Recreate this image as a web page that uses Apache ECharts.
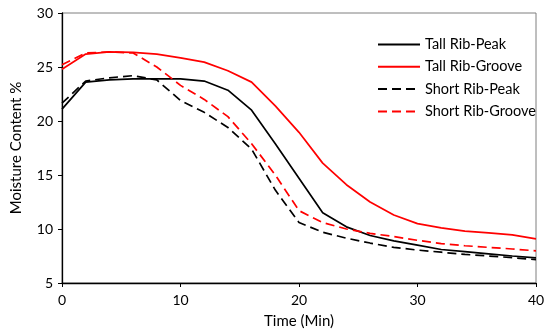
<!DOCTYPE html>
<html>
<head>
<meta charset="utf-8">
<script src="https://cdn.jsdelivr.net/npm/echarts@6/dist/echarts.min.js"></script>
<style>
html,body{margin:0;padding:0;background:#fff;}
#chart{width:550px;height:335px;}
</style>
</head>
<body>
<div id="chart"></div>
<script>
var times = [0,2,4,6,8,10,12,14,16,18,20,22,24,26,28,30,32,34,36,38,40];
var tallPeak   = [21.1,23.6,23.8,23.9,23.9,23.9,23.7,22.85,21.0,17.9,14.7,11.5,10.2,9.4,8.9,8.5,8.1,7.9,7.7,7.5,7.33];
var tallGroove = [24.8,26.2,26.4,26.35,26.2,25.85,25.45,24.65,23.6,21.4,18.95,16.1,14.1,12.5,11.3,10.5,10.1,9.8,9.65,9.45,9.08];
var shortPeak  = [21.65,23.7,24.0,24.2,23.8,21.9,20.8,19.4,17.4,13.6,10.6,9.7,9.15,8.7,8.3,8.05,7.85,7.65,7.5,7.35,7.16];
var shortGroove= [25.2,26.3,26.4,26.3,25.0,23.3,22.0,20.4,17.9,15.0,11.7,10.6,10.0,9.6,9.3,8.95,8.65,8.45,8.3,8.15,7.98];
var seriesNames = ['Tall Rib-Peak','Tall Rib-Groove','Short Rib-Peak','Short Rib-Groove'];
var xTicks = [0,10,20,30,40];
var yTicks = [5,10,15,20,25,30];

function pairs(vals){ return times.map(function(t,i){ return [t, vals[i]]; }); }
var FONT = 'Lato';
function mk(name, vals, color, dashed){
  return {
    name: name, type: 'line', data: pairs(vals), symbol: 'none', smooth: false,
    lineStyle: { color: color, width: 1.7, type: dashed ? [9,5] : 'solid' },
    itemStyle: { color: color },
    emphasis: { disabled: true }, animation: false
  };
}
var chart = echarts.init(document.getElementById('chart'), null, {renderer:'canvas'});
chart.setOption({
  backgroundColor: '#fff',
  animation: false,
  grid: { left: 62, right: 14, top: 13, bottom: 52, show: true, borderColor: '#7f7f7f', borderWidth: 1, backgroundColor: 'transparent' },
  legend: {
    orient: 'vertical', left: 372, top: 32, itemWidth: 42, itemHeight: 14, itemGap: 7.3,
    data: seriesNames,
    itemStyle: { opacity: 0 },
    textStyle: { fontFamily: FONT, fontSize: 14.5, color: '#000' }
  },
  xAxis: {
    type: 'value', min: xTicks[0], max: xTicks[xTicks.length-1], interval: 10,
    name: 'Time (Min)', nameLocation: 'middle', nameGap: 31,
    nameTextStyle: { fontFamily: FONT, fontSize: 15, color: '#000' },
    axisLine: { show: true, onZero: false, lineStyle: { color: '#000', width: 1.3 } },
    axisTick: { show: true, length: 4, lineStyle: { color: '#000' } },
    axisLabel: { fontFamily: FONT, fontSize: 14, color: '#000', margin: 10 },
    splitLine: { show: false }
  },
  yAxis: {
    type: 'value', min: yTicks[0], max: yTicks[yTicks.length-1], interval: 5,
    name: 'Moisture Content %', nameLocation: 'middle', nameGap: 38, nameRotate: 90,
    nameTextStyle: { fontFamily: FONT, fontSize: 15, color: '#000' },
    axisLine: { show: true, onZero: false, lineStyle: { color: '#000', width: 1.3 } },
    axisTick: { show: true, length: 4, lineStyle: { color: '#000' } },
    axisLabel: { fontFamily: FONT, fontSize: 14, color: '#000', margin: 9 },
    splitLine: { show: false }
  },
  series: [
    mk(seriesNames[0], tallPeak, '#000000', false),
    mk(seriesNames[1], tallGroove, '#ff0000', false),
    mk(seriesNames[2], shortPeak, '#000000', true),
    mk(seriesNames[3], shortGroove, '#ff0000', true)
  ]
});
</script>
</body>
</html>
